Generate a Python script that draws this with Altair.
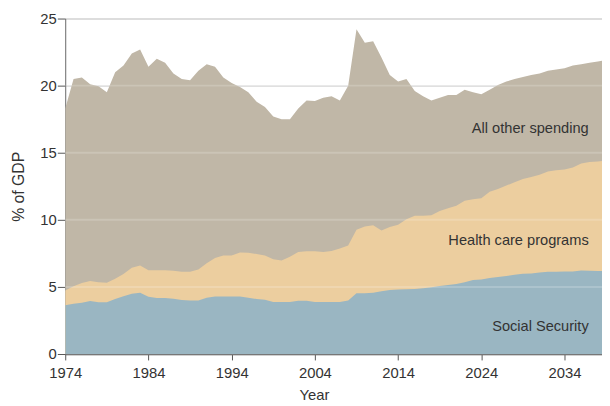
import altair as alt
import pandas as pd

years = list(range(1974, 2040))

total_top = [18.3, 20.5, 20.6, 20.1, 19.95, 19.5, 21.0, 21.5, 22.4, 22.7,
             21.4, 22.0, 21.7, 20.9, 20.5, 20.4, 21.1, 21.6, 21.4, 20.6,
             20.2, 19.9, 19.5, 18.8, 18.4, 17.7, 17.5, 17.5, 18.3, 18.9,
             18.85, 19.1, 19.2, 18.9, 20.0, 24.2, 23.2, 23.3, 22.1, 20.8,
             20.3, 20.5, 19.6, 19.2, 18.9, 19.1, 19.3, 19.3, 19.7, 19.5,
             19.35, 19.7, 20.05, 20.3, 20.5, 20.65, 20.8, 20.9, 21.1, 21.2,
             21.3, 21.5, 21.6, 21.7, 21.8, 21.9]

health_top = [4.73, 5.05, 5.3, 5.44, 5.34, 5.32, 5.6, 5.96, 6.42, 6.6,
              6.25, 6.25, 6.25, 6.2, 6.13, 6.13, 6.3, 6.76, 7.16, 7.35,
              7.35, 7.57, 7.55, 7.45, 7.35, 7.06, 6.96, 7.25, 7.6, 7.65,
              7.65, 7.6, 7.67, 7.87, 8.09, 9.26, 9.5, 9.6, 9.2, 9.46,
              9.63, 10.05, 10.3, 10.3, 10.35, 10.66, 10.86, 11.05, 11.42, 11.54,
              11.6, 12.1, 12.3, 12.55, 12.8, 13.05, 13.2, 13.35, 13.6, 13.7,
              13.75, 13.9, 14.2, 14.3, 14.35, 14.4]

ss_top = [3.63, 3.75, 3.82, 3.95, 3.85, 3.85, 4.1, 4.31, 4.49, 4.56,
          4.26, 4.17, 4.17, 4.12, 4.02, 3.98, 3.98, 4.19, 4.29, 4.29,
          4.29, 4.29, 4.19, 4.1, 4.05, 3.87, 3.87, 3.87, 3.97, 3.97,
          3.87, 3.87, 3.87, 3.87, 3.99, 4.53, 4.53, 4.56, 4.68, 4.78,
          4.8, 4.83, 4.85, 4.9, 4.97, 5.07, 5.15, 5.22, 5.34, 5.51,
          5.56, 5.66, 5.74, 5.81, 5.9, 5.98, 6.0, 6.08, 6.13, 6.13,
          6.15, 6.15, 6.22, 6.2, 6.18, 6.2]

label_text = ["All other spending", "Health care programs", "Social Security"]
label_year = [2036.9, 2036.9, 2036.9]
label_value = [16.45, 8.1, 1.72]

c_other = "#C0B7A7"
c_health = "#ECCE9F"
c_ss = "#9AB6C2"

FONT = "Liberation Sans, Arial, sans-serif"

df = pd.DataFrame({"year": years, "total": total_top,
                   "health": health_top, "ss": ss_top})
labels = pd.DataFrame({"label": label_text, "year": label_year,
                       "value": label_value})

xscale = alt.Scale(domain=[1974, 2038.5], nice=False, zero=False)
yscale = alt.Scale(domain=[0, 25], nice=False)

xaxis = alt.Axis(values=[1974, 1984, 1994, 2004, 2014, 2024, 2034], format="d",
                 title="Year", grid=False, tickSize=6, labelPadding=6,
                 labelFontSize=15, labelFont=FONT, labelColor="#333",
                 titleFontSize=15, titleFont=FONT, titleFontWeight="normal",
                 titleColor="#333", titleX=252, titleY=46,
                 titleBaseline="alphabetic", titleAnchor="middle", titleAlign="center",
                 domainColor="#777", domainWidth=1.5, tickColor="#555",
                 labelFlush=False)

yaxis = alt.Axis(values=[0, 5, 10, 15, 20, 25], title="% of GDP",
                 grid=True, gridColor="#dddddd", gridWidth=2,
                 tickSize=8, labelPadding=1, labelFontSize=15, labelFont=FONT,
                 labelColor="#333", titleFontSize=16, titleFont=FONT,
                 titleFontWeight="normal", titleColor="#333",
                 titleAngle=270, titleX=-47, titleY=170, titleBaseline="middle",
                 titleAlign="center", domainColor="#666", tickColor="#555")

base = alt.Chart(df)

area_other = base.mark_area(color=c_other, clip=True).encode(
    x=alt.X("year:Q", scale=xscale, axis=xaxis),
    y=alt.Y("total:Q", scale=yscale, axis=yaxis),
    y2=alt.datum(0),
)
area_health = base.mark_area(color=c_health, clip=True).encode(
    x=alt.X("year:Q", scale=xscale),
    y=alt.Y("health:Q", scale=yscale),
    y2=alt.datum(0),
)
area_ss = base.mark_area(color=c_ss, clip=True).encode(
    x=alt.X("year:Q", scale=xscale),
    y=alt.Y("ss:Q", scale=yscale),
    y2=alt.datum(0),
)

grid_df = pd.DataFrame({"g": [5, 10, 15, 20]})
grid_top = alt.Chart(grid_df).mark_rule(color="white", opacity=0.18, strokeWidth=2).encode(
    y=alt.Y("g:Q", scale=yscale)
)

text = alt.Chart(labels).mark_text(align="right", baseline="alphabetic",
                                   fontSize=14.8, font=FONT, color="#333").encode(
    x=alt.X("year:Q", scale=xscale),
    y=alt.Y("value:Q", scale=yscale),
    text="label:N",
)

chart = alt.layer(area_other, area_health, area_ss, grid_top, text).properties(
    width=544, height=340,
    autosize=alt.AutoSizeParams(type="none"),
    padding={"left": 58, "top": 8, "right": 0, "bottom": 50},
).configure_view(stroke=None).configure_axis(domainOpacity=1)

chart.save("out.html", embed_options={"renderer": "svg", "actions": False})
